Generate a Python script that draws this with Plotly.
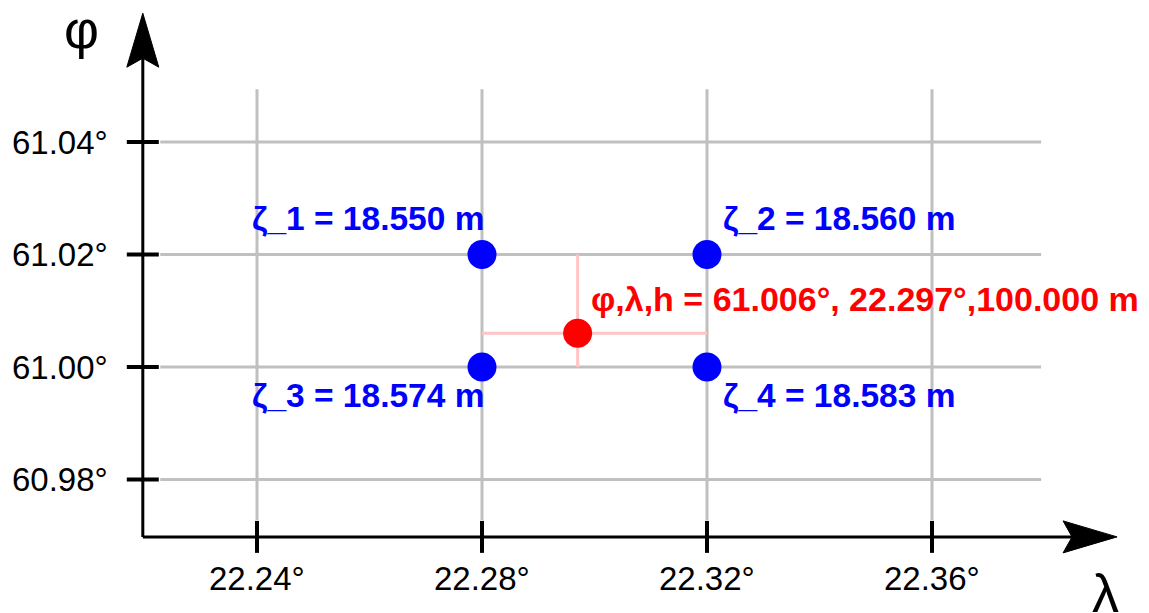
import plotly.graph_objects as go

# Geoid grid nodes (latitude / longitude in degrees) and their undulations in metres
grid_lon = [22.24, 22.28, 22.32, 22.36]
grid_lat = [60.98, 61.00, 61.02, 61.04]
lon_tick_labels = ["22.24°", "22.28°", "22.32°", "22.36°"]
lat_tick_labels = ["60.98°", "61.00°", "61.02°", "61.04°"]

node_lon = [22.28, 22.32, 22.28, 22.32]
node_lat = [61.02, 61.02, 61.00, 61.00]
node_zeta = [18.550, 18.560, 18.574, 18.583]

# Point to interpolate
point_lat = 61.006
point_lon = 22.297
point_h = 100.000

# ---- drawing geometry -------------------------------------------------------
PX = 5625.0                      # pixels per degree (same on both axes)
X_RANGE = [22.24 - 257 / PX, 22.24 + (1149 - 257) / PX]
Y_RANGE = [61.04 - (613 - 142) / PX, 61.04 + 142 / PX]

grid_lon_ext = [22.2228, 22.3794]
grid_lat_ext = [60.9728, 61.0494]
origin_lon, origin_lat = 22.2197, 60.9698
lon_tip, lat_tip = 22.3929, 61.0629
tick_half = 16 / PX

BLUE = "#0000FF"
RED = "#FF0000"
GRID = "#C0C0C0"
FONT = "Liberation Sans, Arial, sans-serif"

fig = go.Figure()

# grid lines
gx, gy = [], []
for lo in grid_lon:
    gx += [lo, lo, None]
    gy += [grid_lat_ext[0], grid_lat_ext[1], None]
for la in grid_lat:
    gx += [grid_lon_ext[0], grid_lon_ext[1], None]
    gy += [la, la, None]
fig.add_trace(go.Scatter(x=gx, y=gy, mode="lines",
                         line=dict(color=GRID, width=3), hoverinfo="skip"))

# axis lines
fig.add_trace(go.Scatter(
    x=[origin_lon, origin_lon, None, origin_lon, lon_tip - 30 / PX],
    y=[lat_tip - 30 / PX, origin_lat, None, origin_lat, origin_lat],
    mode="lines", line=dict(color="black", width=3), hoverinfo="skip"))

# arrow heads
L, W, N = 54 / PX, 16 / PX, 45 / PX
fig.add_trace(go.Scatter(
    x=[lon_tip, lon_tip - L, lon_tip - N, lon_tip - L, lon_tip],
    y=[origin_lat, origin_lat + W, origin_lat, origin_lat - W, origin_lat],
    mode="lines", fill="toself", fillcolor="black",
    line=dict(color="black", width=1), hoverinfo="skip"))
fig.add_trace(go.Scatter(
    x=[origin_lon, origin_lon - W, origin_lon, origin_lon + W, origin_lon],
    y=[lat_tip, lat_tip - L, lat_tip - N, lat_tip - L, lat_tip],
    mode="lines", fill="toself", fillcolor="black",
    line=dict(color="black", width=1), hoverinfo="skip"))

# tick marks
tx, ty = [], []
for lo in grid_lon:
    tx += [lo, lo, None]
    ty += [origin_lat - tick_half, origin_lat + tick_half, None]
for la in grid_lat:
    tx += [origin_lon - tick_half, origin_lon + tick_half, None]
    ty += [la, la, None]
fig.add_trace(go.Scatter(x=tx, y=ty, mode="lines",
                         line=dict(color="black", width=4), hoverinfo="skip"))

# crosshair through the interpolation point
fig.add_trace(go.Scatter(
    x=[min(node_lon), max(node_lon), None, point_lon, point_lon],
    y=[point_lat, point_lat, None, min(node_lat), max(node_lat)],
    mode="lines", line=dict(color="#FFC4C4", width=3), hoverinfo="skip"))

# grid nodes and the point
fig.add_trace(go.Scatter(x=node_lon, y=node_lat, mode="markers",
                         marker=dict(color=BLUE, size=29, line=dict(width=0)),
                         hoverinfo="skip"))
fig.add_trace(go.Scatter(x=[point_lon], y=[point_lat], mode="markers",
                         marker=dict(color=RED, size=29, line=dict(width=0)),
                         hoverinfo="skip"))

annotations = []
# tick labels
for lo, txt in zip(grid_lon, lon_tick_labels):
    annotations.append(dict(x=lo, y=origin_lat, text=txt, showarrow=False,
                            xanchor="center", yanchor="top", yshift=-21,
                            font=dict(family=FONT, size=33, color="black")))
for la, txt in zip(grid_lat, lat_tick_labels):
    annotations.append(dict(x=origin_lon, y=la, text=txt, showarrow=False,
                            xanchor="right", yanchor="middle", xshift=-33,
                            font=dict(family=FONT, size=33, color="black")))

# axis names
annotations.append(dict(x=origin_lon, y=lat_tip, text="φ", showarrow=False,
                        xanchor="center", yanchor="middle", xshift=-61, yshift=-16,
                        font=dict(family=FONT, size=54, color="black")))
annotations.append(dict(x=lon_tip, y=origin_lat, text="λ", showarrow=False,
                        xanchor="center", yanchor="middle", xshift=-12, yshift=-56,
                        font=dict(family=FONT, size=54, color="black")))

# undulation labels
placement = [("right", 4, 36), ("left", 14, 36), ("right", 4, -28), ("left", 14, -28)]
for i, (lo, la, z) in enumerate(zip(node_lon, node_lat, node_zeta)):
    xa, xs, ys = placement[i]
    annotations.append(dict(x=lo, y=la, text=f"<b>ζ_{i + 1} = {z:.3f} m</b>",
                            showarrow=False, xanchor=xa, yanchor="middle",
                            xshift=xs, yshift=ys,
                            font=dict(family=FONT, size=33.5, color=BLUE)))

annotations.append(dict(
    x=point_lon, y=point_lat,
    text=f"<b>φ,λ,h = {point_lat:.3f}°, {point_lon:.3f}°,{point_h:.3f} m</b>",
    showarrow=False, xanchor="left", yanchor="middle", xshift=11, yshift=34,
    font=dict(family=FONT, size=34, color=RED)))

fig.update_layout(
    width=1149, height=613,
    margin=dict(l=0, r=0, t=0, b=0),
    paper_bgcolor="white", plot_bgcolor="white",
    showlegend=False,
    xaxis=dict(range=X_RANGE, visible=False, fixedrange=True),
    yaxis=dict(range=Y_RANGE, visible=False, fixedrange=True),
    annotations=annotations,
)

fig.write_html("out.html", config={"displayModeBar": False})
